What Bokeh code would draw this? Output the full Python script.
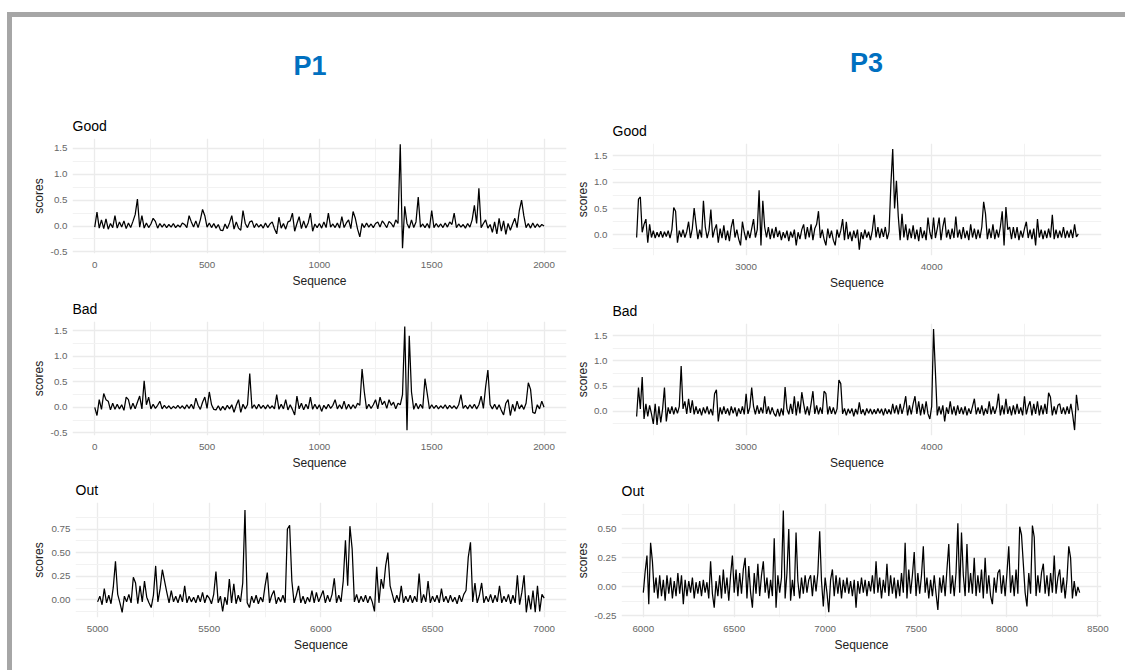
import numpy as np
from bokeh.plotting import figure
from bokeh.layouts import row, column
from bokeh.models import FixedTicker, NumeralTickFormatter, Div, Spacer, Range1d
from bokeh.embed import file_html
from bokeh.resources import INLINE

FONT = "Liberation Sans"

# ---------------- data (step of 10 in Sequence) ----------------
p1_good_start = 0
p1_good = [
    -0.02, 0.27, -0.04, 0.12, -0.05, 0.14, -0.06, 0.05, -0.03, 0.20,
    -0.04, 0.08, -0.02, 0.10, -0.05, 0.06, -0.03, 0.09, 0.22, 0.52,
    -0.02, 0.20, -0.04, 0.06, -0.03, 0.04, 0.15, 0.09, -0.04, 0.05,
    -0.02, 0.04, -0.03, 0.03, -0.02, 0.05, -0.03, 0.02, -0.02, 0.06,
    0.03, -0.03, 0.20, 0.08, -0.02, 0.10, -0.03, 0.12, 0.32, 0.20,
    -0.02, 0.06, -0.03, 0.05, -0.04, 0.03, -0.08, -0.09, 0.04, -0.05,
    0.06, 0.20, -0.06, 0.08, -0.04, -0.08, 0.30, 0.05, -0.03, 0.08,
    0.10, -0.03, 0.05, -0.02, 0.03, -0.04, 0.06, -0.03, 0.04, 0.08,
    -0.05, -0.15, 0.17, -0.04, 0.05, -0.06, 0.08, 0.10, 0.25, -0.10,
    0.05, 0.18, -0.05, 0.10, -0.04, 0.06, 0.25, -0.10, 0.04, -0.03,
    0.05, -0.04, 0.08, -0.03, 0.25, -0.02, 0.04, -0.03, 0.06, -0.04,
    0.18, -0.03, 0.06, 0.12, -0.05, 0.28, 0.15, -0.06, -0.21, 0.05,
    -0.03, 0.06, -0.02, 0.04, -0.03, 0.05, 0.08, -0.02, 0.10, 0.04,
    -0.03, 0.09, 0.05, -0.02, 0.12, 0.05, 1.58, -0.43, 0.38, 0.05,
    -0.04, 0.12, -0.03, 0.08, 0.56, -0.02, 0.04, -0.03, 0.05, -0.04,
    0.30, -0.03, 0.05, -0.02, 0.04, -0.03, 0.06, -0.02, 0.08, 0.03,
    0.25, -0.03, 0.04, -0.02, 0.03, -0.04, 0.05, -0.02, 0.12, 0.40,
    0.05, 0.73, -0.03, 0.05, 0.12, -0.04, 0.03, -0.12, 0.08, -0.15,
    0.15, -0.10, 0.10, -0.16, 0.05, -0.08, 0.04, 0.15, -0.03, 0.30,
    0.50, 0.20, -0.03, 0.05, -0.04, 0.06, -0.03, 0.04, -0.02, 0.03,
    0.00,
]

p1_bad_start = 0
p1_bad = [
    0.00, -0.16, 0.15, -0.04, 0.27, 0.15, 0.12, -0.05, 0.08, -0.04,
    0.06, -0.03, 0.05, -0.06, 0.20, 0.15, -0.04, 0.08, -0.03, 0.10,
    0.22, -0.03, 0.52, 0.05, 0.20, -0.03, 0.06, -0.02, 0.04, 0.12,
    -0.03, 0.04, -0.02, 0.03, -0.03, 0.02, -0.02, 0.04, -0.02, 0.03,
    -0.03, 0.05, -0.02, 0.06, -0.03, 0.18, 0.04, -0.04, 0.10, 0.20,
    -0.02, 0.30, 0.05, -0.04, -0.05, 0.03, -0.06, 0.02, -0.05, 0.04,
    -0.03, 0.05, -0.10, 0.04, 0.15, -0.10, 0.06, -0.03, 0.05, 0.66,
    -0.02, 0.05, -0.03, 0.06, -0.02, 0.04, -0.03, 0.05, -0.02, 0.03,
    -0.03, 0.25, -0.04, 0.06, -0.03, 0.15, -0.05, 0.05, -0.04, -0.15,
    0.22, -0.03, 0.08, -0.05, 0.06, -0.03, 0.20, -0.04, 0.06, -0.03,
    0.05, -0.08, 0.04, -0.03, 0.06, -0.02, 0.04, 0.15, -0.03, 0.05,
    -0.03, 0.12, -0.04, 0.06, -0.03, 0.05, -0.02, 0.08, 0.04, 0.75,
    0.30, -0.03, 0.06, -0.02, 0.05, 0.15, -0.03, 0.20, 0.05, 0.12,
    -0.02, 0.15, 0.04, 0.10, -0.03, 0.08, 0.05, 0.25, 1.58, -0.45,
    1.40, 0.30, -0.04, 0.08, -0.03, 0.06, -0.02, 0.56, 0.27, -0.03,
    0.05, -0.02, 0.04, -0.03, 0.03, -0.02, 0.05, -0.03, 0.04, -0.02,
    0.03, -0.03, 0.05, 0.25, -0.02, 0.04, -0.03, 0.05, -0.02, 0.06,
    -0.03, 0.05, 0.22, -0.02, 0.40, 0.73, 0.05, -0.03, 0.06, -0.04,
    0.05, -0.06, -0.15, 0.08, 0.15, -0.16, 0.06, -0.08, 0.12, -0.03,
    0.05, -0.04, 0.08, 0.48, 0.35, -0.10, -0.12, 0.05, -0.03, 0.12,
    0.00,
]

p1_out_start = 5000
p1_out = [
    -0.02, 0.04, -0.05, 0.12, -0.03, 0.05, -0.04, 0.13, 0.41, 0.06,
    -0.03, -0.13, 0.04, -0.02, 0.06, -0.03, 0.24, 0.18, -0.04, 0.15,
    -0.02, 0.20, 0.03, -0.03, -0.08, 0.05, 0.36, -0.02, 0.12, 0.32,
    0.20, 0.08, -0.03, 0.10, -0.02, 0.04, -0.03, 0.06, -0.02, 0.15,
    -0.03, 0.04, -0.02, 0.03, -0.03, 0.05, -0.02, 0.08, -0.03, 0.05,
    0.02, -0.04, 0.06, 0.30, -0.03, 0.04, -0.12, 0.03, -0.05, 0.22,
    -0.03, 0.17, -0.04, 0.05, -0.02, 0.18, 0.95, -0.03, -0.08, 0.04,
    -0.03, 0.05, -0.04, 0.03, -0.02, 0.15, 0.29, -0.03, 0.05, 0.10,
    -0.04, 0.03, -0.02, 0.05, -0.03, 0.75, 0.79, 0.20, -0.03, 0.05,
    0.15, -0.03, 0.04, -0.04, 0.03, -0.02, 0.10, -0.03, 0.08, -0.02,
    0.04, 0.10, -0.03, 0.05, -0.02, 0.06, 0.23, -0.03, 0.05, -0.02,
    0.20, 0.63, 0.15, 0.78, 0.54, -0.02, 0.06, -0.03, 0.04, -0.02,
    0.05, -0.03, 0.04, -0.02, -0.12, 0.35, -0.03, 0.22, 0.12, 0.36,
    0.50, 0.15, 0.06, -0.03, 0.05, -0.02, 0.15, -0.03, 0.04, -0.02,
    0.05, -0.03, 0.04, -0.02, 0.28, -0.03, 0.06, -0.02, 0.20, -0.03,
    0.04, -0.02, 0.05, -0.03, 0.12, -0.02, 0.04, -0.03, 0.05, -0.02,
    0.03, -0.04, 0.05, -0.02, 0.06, 0.10, 0.45, 0.61, -0.02, 0.18,
    -0.03, 0.05, 0.18, -0.03, 0.04, -0.02, 0.06, -0.03, 0.05, -0.02,
    0.15, -0.03, 0.04, -0.02, 0.06, -0.04, 0.05, -0.03, 0.26, -0.05,
    0.08, 0.26, -0.13, 0.05, -0.10, 0.10, -0.13, 0.15, -0.12, 0.06,
    0.02,
]

p3_good_start = 2410
p3_good = [
    -0.05, 0.68, 0.72, 0.05, 0.20, 0.30, -0.15, 0.20, -0.05, 0.08,
    -0.06, 0.05, -0.04, 0.07, -0.05, 0.06, -0.03, 0.08, -0.06, 0.10,
    0.52, 0.45, -0.15, 0.08, -0.04, 0.10, -0.05, 0.06, 0.25, -0.06,
    0.12, 0.51, 0.20, -0.08, 0.10, -0.05, 0.65, 0.15, -0.06, 0.08,
    0.48, -0.05, 0.10, 0.20, -0.15, 0.12, -0.06, 0.18, -0.10, 0.08,
    -0.12, 0.15, 0.30, -0.05, 0.10, -0.08, -0.20, 0.25, 0.05, -0.10,
    0.08, -0.06, 0.12, 0.30, -0.05, 0.10, 0.85, -0.20, 0.65, 0.15,
    -0.05, 0.15, -0.08, 0.12, -0.06, 0.15, -0.04, 0.08, -0.10, 0.05,
    -0.06, 0.08, -0.12, 0.06, -0.05, 0.10, -0.20, 0.05, -0.08, 0.10,
    0.20, -0.08, 0.15, -0.05, 0.20, -0.10, 0.12, 0.20, 0.45, -0.06,
    0.10, -0.08, -0.20, 0.12, -0.06, 0.08, -0.10, -0.20, 0.10, -0.05,
    0.08, 0.30, -0.10, 0.25, -0.08, 0.06, -0.12, 0.08, -0.06, 0.10,
    -0.28, 0.05, -0.08, 0.10, -0.05, 0.06, -0.10, 0.08, 0.38, -0.05,
    0.15, -0.06, 0.12, -0.04, 0.15, -0.08, 0.06, 0.95, 1.63, 0.50,
    1.03, 0.35, -0.10, 0.40, -0.05, 0.20, -0.10, 0.12, -0.06, 0.18,
    -0.08, 0.10, -0.12, 0.15, -0.06, 0.08, -0.10, 0.33, 0.05, -0.08,
    0.33, -0.06, 0.12, 0.33, -0.10, 0.15, 0.33, -0.05, 0.10, -0.08,
    0.12, -0.06, 0.35, -0.05, 0.10, -0.08, 0.15, -0.06, 0.08, -0.10,
    0.20, -0.05, 0.12, -0.08, 0.10, -0.06, 0.15, 0.63, 0.40, -0.08,
    0.12, -0.06, 0.20, -0.08, 0.10, -0.05, 0.15, 0.45, -0.20, 0.53,
    0.10, 0.15, -0.08, 0.15, -0.06, 0.15, -0.10, 0.08, -0.05, 0.12,
    0.25, -0.06, 0.10, -0.08, 0.12, -0.20, 0.30, -0.05, 0.10, -0.08,
    0.08, -0.06, 0.12, -0.05, 0.38, -0.08, 0.10, -0.06, 0.08, -0.05,
    0.15, -0.06, 0.08, -0.05, 0.10, -0.06, 0.20, -0.04, 0.02,
]

p3_bad_start = 2410
p3_bad = [
    -0.10, 0.47, 0.05, 0.68, -0.15, 0.15, -0.10, 0.12, -0.05, -0.25,
    0.15, -0.27, 0.10, -0.22, 0.05, 0.47, -0.20, 0.08, -0.05, 0.10,
    -0.06, 0.08, -0.04, 0.10, 0.90, 0.05, 0.20, -0.05, 0.25, -0.03,
    0.22, -0.06, 0.10, -0.05, 0.06, -0.08, 0.08, -0.04, 0.10, -0.06,
    0.05, -0.08, 0.35, 0.43, -0.20, 0.08, -0.06, 0.10, -0.05, 0.06,
    -0.08, 0.10, -0.04, 0.08, -0.10, 0.06, -0.05, 0.10, -0.06, 0.35,
    -0.05, 0.08, 0.47, 0.10, -0.06, 0.12, -0.05, 0.08, -0.04, 0.30,
    -0.05, 0.10, -0.06, 0.08, -0.04, -0.10, 0.05, -0.10, 0.06, -0.08,
    0.48, 0.05, -0.06, 0.15, -0.05, 0.30, -0.08, 0.20, -0.04, 0.38,
    0.15, -0.06, 0.10, -0.08, 0.15, 0.40, -0.05, 0.12, -0.06, 0.08,
    -0.05, 0.40, 0.35, -0.06, 0.10, -0.05, 0.08, -0.06, 0.05, 0.62,
    0.55, -0.05, 0.06, -0.08, 0.05, -0.04, 0.06, -0.10, 0.05, -0.06,
    0.18, -0.05, 0.04, -0.08, 0.06, -0.04, 0.05, -0.06, 0.04, -0.05,
    0.06, -0.04, 0.05, -0.08, 0.06, -0.05, 0.04, -0.06, 0.15, -0.04,
    0.12, -0.06, 0.15, -0.05, 0.10, 0.30, -0.08, 0.12, -0.06, 0.15,
    0.30, -0.05, 0.20, -0.08, 0.15, -0.06, 0.20, -0.05, -0.15, 0.10,
    1.63, 0.78, -0.08, 0.10, -0.06, 0.12, -0.20, 0.08, -0.05, 0.20,
    -0.06, 0.10, -0.08, 0.12, -0.05, 0.08, -0.06, 0.10, -0.08, 0.06,
    -0.05, 0.10, 0.25, -0.06, 0.08, -0.05, 0.12, -0.08, 0.06, -0.05,
    0.20, -0.06, 0.10, -0.05, 0.08, 0.35, -0.08, 0.12, -0.06, 0.25,
    -0.05, 0.10, -0.08, 0.12, -0.06, 0.15, -0.05, 0.08, -0.08, 0.30,
    -0.06, 0.10, 0.20, -0.08, 0.15, -0.05, 0.20, -0.08, 0.12, -0.06,
    0.15, -0.05, 0.37, 0.28, -0.08, 0.10, -0.06, 0.12, 0.15, -0.05,
    0.08, -0.06, 0.10, -0.05, 0.15, -0.08, -0.37, 0.33, 0.02,
]

p3_out_start = 6000
p3_out = [
    -0.05, 0.13, 0.27, -0.15, 0.38, 0.22, -0.05, 0.08, -0.10, 0.10,
    -0.08, 0.06, -0.12, 0.10, -0.06, 0.08, -0.10, 0.05, -0.08, 0.12,
    -0.06, 0.10, -0.15, 0.06, -0.08, 0.05, -0.05, 0.08, -0.10, 0.04,
    -0.06, 0.05, -0.08, 0.06, -0.05, 0.04, -0.10, 0.22, -0.06, -0.18,
    0.05, -0.08, 0.10, -0.10, 0.15, -0.06, 0.08, -0.12, 0.10, 0.27,
    -0.05, 0.15, -0.08, 0.12, -0.06, 0.15, 0.25, -0.10, 0.18, -0.05,
    -0.18, 0.12, -0.06, 0.20, -0.08, 0.10, 0.22, -0.05, 0.08, -0.10,
    0.06, -0.08, 0.42, -0.18, 0.10, -0.05, 0.08, 0.66, -0.10, 0.12,
    0.50, -0.12, 0.06, -0.08, 0.47, 0.05, -0.10, 0.08, -0.06, 0.10,
    -0.05, 0.06, 0.10, -0.08, 0.10, -0.04, 0.12, 0.48, 0.05, -0.17,
    0.08, -0.05, -0.22, 0.06, 0.15, -0.08, 0.10, -0.06, 0.08, -0.10,
    0.06, -0.05, 0.08, -0.06, 0.05, -0.08, 0.06, -0.18, 0.05, -0.06,
    0.08, -0.05, 0.06, -0.08, 0.05, -0.04, 0.10, -0.06, 0.22, -0.05,
    0.08, -0.10, 0.06, -0.05, 0.20, -0.08, 0.10, -0.06, 0.08, -0.10,
    0.06, -0.08, 0.12, -0.05, 0.38, -0.10, 0.15, -0.06, 0.10, 0.30,
    -0.08, 0.12, -0.06, 0.10, 0.35, -0.05, 0.08, -0.10, 0.06, -0.08,
    0.10, -0.06, -0.20, 0.08, -0.05, 0.10, -0.08, 0.15, 0.37, -0.06,
    0.10, -0.08, 0.12, 0.55, -0.05, 0.47, 0.10, -0.08, 0.37, -0.05,
    0.12, -0.06, 0.25, -0.08, 0.10, -0.05, 0.15, -0.10, 0.25, -0.06,
    0.10, -0.08, -0.15, 0.08, -0.05, 0.12, 0.15, -0.06, 0.10, -0.08,
    0.12, 0.35, -0.05, 0.10, -0.08, 0.15, -0.06, 0.52, 0.45, 0.20,
    -0.05, -0.17, 0.12, -0.06, 0.53, 0.43, -0.08, 0.10, -0.05, 0.12,
    0.20, -0.06, 0.10, -0.08, 0.12, -0.05, 0.27, -0.06, 0.08, 0.15,
    -0.05, 0.08, -0.10, 0.06, 0.35, 0.25, -0.10, 0.05, -0.08, 0.00,
    -0.05,
]
STEP = 10

# tick labels / breaks
p1_x_ticks = [0, 500, 1000, 1500, 2000]
p1_x_minor = [250, 750, 1250, 1750]
p1_out_x_ticks = [5000, 5500, 6000, 6500, 7000]
p1_out_x_minor = [5250, 5750, 6250, 6750]
p3_x_ticks = [3000, 4000]
p3_x_minor = [2500, 3500, 4500]
p3_out_x_ticks = [6000, 6500, 7000, 7500, 8000, 8500]
p3_out_x_minor = [6250, 6750, 7250, 7750, 8250]
big_y_ticks = [-0.5, 0.0, 0.5, 1.0, 1.5]
big_y_minor = [-0.25, 0.25, 0.75, 1.25]
p1_out_y_ticks = [0.0, 0.25, 0.5, 0.75]
p1_out_y_minor = [-0.125, 0.125, 0.375, 0.625, 0.875]
p3_out_y_ticks = [-0.25, 0.0, 0.25, 0.5]
p3_out_y_minor = [-0.125, 0.125, 0.375, 0.625]


def panel(title, start, vals, xr, yr, xt, xm, yt, ym, yfmt,
          w, h, bl, br, bt, bb, ylab_gap):
    xs = np.arange(len(vals)) * STEP + start
    p = figure(width=w, height=h, x_range=Range1d(*xr), y_range=Range1d(*yr),
               output_backend="svg", toolbar_location=None, title=title,
               min_border_left=bl, min_border_right=br,
               min_border_top=bt, min_border_bottom=bb)
    p.frame_align = False
    p.line(xs, vals, line_color="black", line_width=1.25)
    p.outline_line_color = None
    p.background_fill_color = "white"
    p.border_fill_color = "white"
    p.title.text_font = FONT
    p.title.text_font_size = "14px"
    p.title.text_font_style = "normal"
    p.title.text_color = "black"
    p.title.standoff = 10
    p.title.align = "left"
    p.xaxis.ticker = FixedTicker(ticks=xt, minor_ticks=xm)
    p.yaxis.ticker = FixedTicker(ticks=yt, minor_ticks=ym)
    p.xaxis.formatter = NumeralTickFormatter(format="0")
    p.yaxis.formatter = NumeralTickFormatter(format=yfmt)
    p.xaxis.axis_label = "Sequence"
    p.yaxis.axis_label = "scores"
    for ax in (p.xaxis[0], p.yaxis[0]):
        ax.axis_line_color = None
        ax.major_tick_line_color = None
        ax.minor_tick_line_color = None
        ax.major_tick_out = 0
        ax.major_tick_in = 0
        ax.minor_tick_out = 0
        ax.minor_tick_in = 0
        ax.major_label_text_font = FONT
        ax.major_label_text_font_size = "9.8px"
        ax.major_label_text_color = "#666666"
        ax.axis_label_text_font = FONT
        ax.axis_label_text_font_size = "12px"
        ax.axis_label_text_font_style = "normal"
        ax.axis_label_text_color = "#222222"
    p.xaxis.major_label_standoff = 8
    p.xaxis.axis_label_standoff = 3
    p.yaxis.major_label_standoff = 5
    p.yaxis.axis_label_standoff = ylab_gap
    for g in (p.xgrid[0], p.ygrid[0]):
        g.grid_line_color = "#EBEBEB"
        g.grid_line_width = 1.3
        g.minor_grid_line_color = "#F2F2F2"
        g.minor_grid_line_width = 1
    return p


LW, RW = 558, 555

# left column (P1)
g1 = panel("Good", p1_good_start, p1_good, (-99, 2100), (-0.53, 1.69),
           p1_x_ticks, p1_x_minor, big_y_ticks, big_y_minor, "0.0",
           LW, 190, 60, 4, 38, 36, 2)
b1 = panel("Bad", p1_bad_start, p1_bad, (-99, 2100), (-0.551, 1.678),
           p1_x_ticks, p1_x_minor, big_y_ticks, big_y_minor, "0.0",
           LW, 182, 60, 4, 31, 35, 2)
o1 = panel("Out", p1_out_start, p1_out, (4901, 7100), (-0.185, 1.03),
           p1_out_x_ticks, p1_out_x_minor, p1_out_y_ticks, p1_out_y_minor, "0.00",
           LW, 198, 63, 4, 30, 53, 2)
# right column (P3)
g3 = panel("Good", p3_good_start, p3_good, (2280, 4915), (-0.392, 1.737),
           p3_x_ticks, p3_x_minor, big_y_ticks[1:], big_y_minor, "0.0",
           RW, 192, 42, 24, 43, 34, 1)
b3 = panel("Bad", p3_bad_start, p3_bad, (2280, 4915), (-0.478, 1.741),
           p3_x_ticks, p3_x_minor, big_y_ticks[1:], big_y_minor, "0.0",
           RW, 180, 42, 24, 31, 33, 1)
o3 = panel("Out", p3_out_start, p3_out, (5880, 8520), (-0.265, 0.72),
           p3_out_x_ticks, p3_out_x_minor, p3_out_y_ticks, p3_out_y_minor, "0.00",
           RW, 198, 51, 24, 31, 53, 1)

head_style = ("font-family:'Liberation Sans',Arial,sans-serif;font-weight:bold;"
              "font-size:27px;line-height:27px;color:#0070C0;text-align:center;")
h1 = Div(text=f'<div style="{head_style}padding-top:36px;width:596px;">P1</div>',
         width=596, height=83, margin=0)
h3 = Div(text=f'<div style="{head_style}padding-top:33px;width:517px;">P3</div>',
         width=517, height=83, margin=0)

content = column(row(h1, h3), row(column(g1, b1, o1), column(g3, b3, o3)))

top_bar = Div(text="", width=1118, height=5, margin=0,
              styles={"background-color": "#A6A6A6"})
left_bar = Div(text="", width=5, height=653, margin=0,
               styles={"background-color": "#A6A6A6"})

layout = column(
    Spacer(width=1125, height=12, margin=0),
    row(Spacer(width=7, height=658, margin=0),
        column(top_bar, row(left_bar, content))),
)

open("out.html", "w").write(file_html(layout, INLINE))
